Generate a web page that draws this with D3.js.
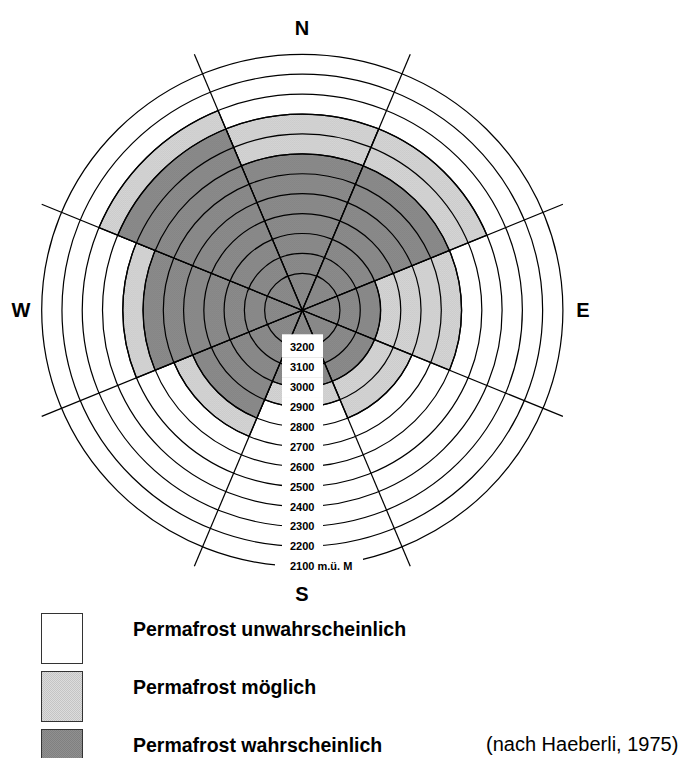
<!DOCTYPE html>
<html>
<head>
<meta charset="utf-8">
<script src="https://cdn.jsdelivr.net/npm/d3@7"></script>
<style>
  html, body { margin: 0; padding: 0; background: #fff; }
  svg { display: block; }
  text { font-family: "Liberation Sans", Arial, Helvetica, sans-serif; }
</style>
</head>
<body>
<svg id="chart" width="686" height="758"></svg>
<script>
// ---------- data ----------
const directions = ["N", "NE", "E", "SE", "S", "SW", "W", "NW"];
// lower limit (m ü. M.) of "Permafrost wahrscheinlich" per exposure
const probableLimit = [2600, 2600, 3000, 3000, 3000, 2800, 2600, 2400];
// lower limit (m ü. M.) of "Permafrost möglich" per exposure
const possibleLimit = [2400, 2400, 2600, 2800, 2900, 2700, 2500, 2300];
const elevations = [3200, 3100, 3000, 2900, 2800, 2700, 2600, 2500, 2400, 2300, 2200, 2100];
const elevationLabels = ["3200", "3100", "3000", "2900", "2800", "2700", "2600", "2500", "2400", "2300", "2200", "2100 m.ü. M"];
const compassLabels = ["N", "E", "S", "W"];
const legendLabels = ["Permafrost unwahrscheinlich", "Permafrost möglich", "Permafrost wahrscheinlich"];
const sourceNote = "(nach Haeberli, 1975)";

// ---------- layout ----------
const cx = 302.3, cy = 310.3;
const stretchX = 1.018;
const svg = d3.select("#chart");

const r = d3.scaleLinear().domain([3200, 2100]).range([37, 256]);
const R = r(2100);
const sectorWidth = 360 / directions.length;
const toRad = d => d * Math.PI / 180;

// patterns
const defs = svg.append("defs");
function checker(id, base, dot) {
  const p = defs.append("pattern").attr("id", id)
    .attr("width", 2).attr("height", 2).attr("patternUnits", "userSpaceOnUse");
  p.append("rect").attr("width", 2).attr("height", 2).attr("fill", base);
  p.append("rect").attr("width", 1).attr("height", 1).attr("fill", dot);
  p.append("rect").attr("x", 1).attr("y", 1).attr("width", 1).attr("height", 1).attr("fill", dot);
}
checker("patDark", "#909090", "#808080");
checker("patLight", "#dcdcdc", "#c4c4c4");

const g = svg.append("g").attr("transform", `translate(${cx},${cy}) scale(${stretchX},1)`);

const arc = d3.arc();
const sectors = directions.map((d, i) => ({
  dir: d,
  startAngle: toRad(i * sectorWidth - sectorWidth / 2),
  endAngle: toRad(i * sectorWidth + sectorWidth / 2),
  possible: possibleLimit[i],
  probable: probableLimit[i]
}));

// "möglich" zone
g.append("g").selectAll("path").data(sectors).join("path")
  .attr("d", d => arc({innerRadius: 0, outerRadius: r(d.possible), startAngle: d.startAngle, endAngle: d.endAngle}))
  .attr("fill", "url(#patLight)")
  .attr("stroke", "#000").attr("stroke-width", 1.3);

// "wahrscheinlich" zone
g.append("g").selectAll("path").data(sectors).join("path")
  .attr("d", d => arc({innerRadius: 0, outerRadius: r(d.probable), startAngle: d.startAngle, endAngle: d.endAngle}))
  .attr("fill", "url(#patDark)")
  .attr("stroke", "#000").attr("stroke-width", 1.2);

// elevation rings
g.append("g").selectAll("circle").data(elevations).join("circle")
  .attr("r", d => r(d))
  .attr("fill", "none").attr("stroke", "#000").attr("stroke-width", 1.2);

// sector boundary lines (reach to the bounding square of outer ring)
const boundaryAngles = d3.range(4).map(i => i * sectorWidth + sectorWidth / 2);
g.append("g").selectAll("line").data(boundaryAngles).join("line")
  .each(function(a) {
    const t = toRad(a);
    const len = R / Math.max(Math.abs(Math.cos(t)), Math.abs(Math.sin(t)));
    d3.select(this)
      .attr("x1", Math.sin(t) * len).attr("y1", -Math.cos(t) * len)
      .attr("x2", -Math.sin(t) * len).attr("y2", Math.cos(t) * len);
  })
  .attr("stroke", "#000").attr("stroke-width", 1.2);

// elevation labels with white backgrounds
const lab = svg.append("g");
const labelX = 290;
elevations.forEach((e, i) => {
  const y = cy + r(e);
  const isLast = i === elevations.length - 1;
  const prevY = i === 0 ? y - 13 : cy + (r(elevations[i - 1]) + r(e)) / 2;
  const nextY = isLast ? y + 9 : cy + (r(elevations[i + 1]) + r(e)) / 2;
  lab.append("rect")
    .attr("x", isLast ? 275 : 282).attr("width", isLast ? 88 : 41)
    .attr("y", prevY).attr("height", nextY - prevY)
    .attr("fill", "#fff");
});
lab.selectAll("text").data(elevations).join("text")
  .attr("x", labelX).attr("y", d => cy + r(d))
  .attr("dy", "0.36em")
  .attr("font-size", 11).attr("font-weight", "bold")
  .text((d, i) => elevationLabels[i]);

// compass labels
const compassPos = {
  N: [302, 28], E: [583, 310], S: [302, 594], W: [21, 310]
};
svg.append("g").selectAll("text").data(compassLabels).join("text")
  .attr("x", d => compassPos[d][0]).attr("y", d => compassPos[d][1])
  .attr("text-anchor", "middle").attr("dy", "0.36em")
  .attr("font-size", 20).attr("font-weight", "bold")
  .text(d => d);

// legend
const legendFills = ["#fff", "url(#patLight)", "url(#patDark)"];
const leg = svg.append("g");
legendLabels.forEach((t, i) => {
  const y0 = 613 + i * 58;
  leg.append("rect").attr("x", 41.5).attr("y", y0 + 0.5).attr("width", 41).attr("height", 50)
    .attr("fill", legendFills[i]).attr("stroke", "#333").attr("stroke-width", 1);
  leg.append("text").attr("x", 133).attr("y", y0 + 15.5).attr("dy", "0.36em")
    .attr("font-size", 19.5).attr("font-weight", "bold")
    .text(t);
});
leg.append("text").attr("x", 486).attr("y", 613 + 2 * 58 + 14.5).attr("dy", "0.36em")
  .attr("font-size", 20)
  .text(sourceNote);
</script>
</body>
</html>
